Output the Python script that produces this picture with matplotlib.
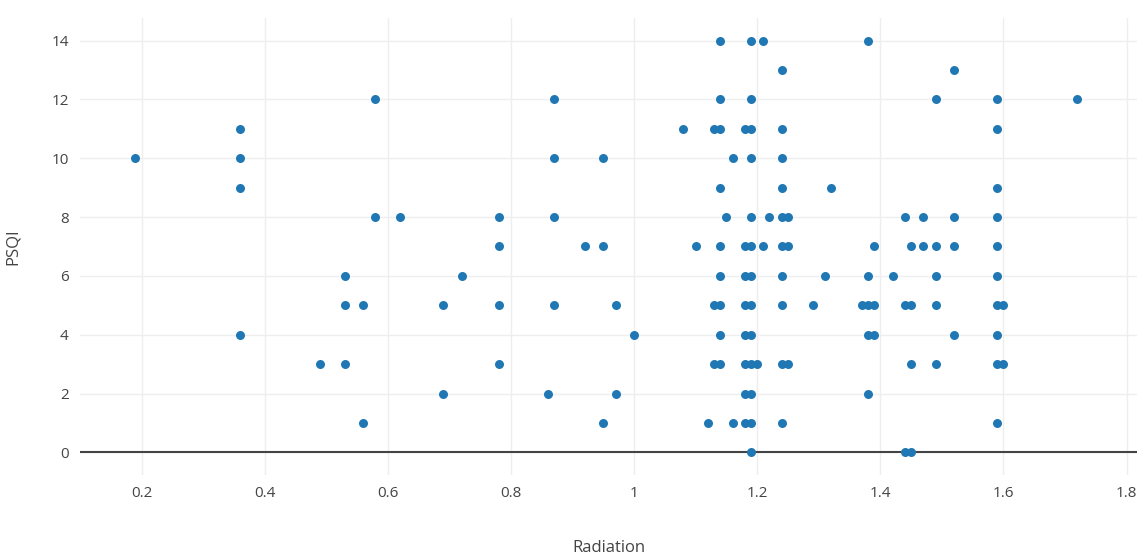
import matplotlib.pyplot as plt
import numpy as np

radiation = [0.19,
             0.36, 0.36, 0.36, 0.36,
             0.49,
             0.53, 0.53, 0.53,
             0.56, 0.56,
             0.58, 0.58,
             0.62,
             0.69, 0.69,
             0.72,
             0.78, 0.78, 0.78, 0.78,
             0.86,
             0.87, 0.87, 0.87, 0.87,
             0.92,
             0.95, 0.95, 0.95,
             0.97, 0.97,
             1.00,
             1.08,
             1.10,
             1.12,
             1.13, 1.13, 1.13,
             1.14, 1.14, 1.14, 1.14, 1.14, 1.14, 1.14, 1.14, 1.14,
             1.15,
             1.16, 1.16,
             1.18, 1.18, 1.18, 1.18, 1.18, 1.18, 1.18, 1.18,
             1.19, 1.19, 1.19, 1.19, 1.19, 1.19, 1.19, 1.19, 1.19, 1.19, 1.19, 1.19, 1.19,
             1.20,
             1.21, 1.21,
             1.22,
             1.24, 1.24, 1.24, 1.24, 1.24, 1.24, 1.24, 1.24, 1.24, 1.24,
             1.25, 1.25, 1.25,
             1.29,
             1.31,
             1.32,
             1.37,
             1.38, 1.38, 1.38, 1.38, 1.38,
             1.39, 1.39, 1.39,
             1.42,
             1.44, 1.44, 1.44,
             1.45, 1.45, 1.45, 1.45,
             1.47, 1.47,
             1.49, 1.49, 1.49, 1.49, 1.49,
             1.52, 1.52, 1.52, 1.52,
             1.59, 1.59, 1.59, 1.59, 1.59, 1.59, 1.59, 1.59, 1.59, 1.59,
             1.60, 1.60,
             1.72]

psqi = [10,
        11, 10, 9, 4,
        3,
        6, 5, 3,
        5, 1,
        12, 8,
        8,
        5, 2,
        6,
        8, 7, 5, 3,
        2,
        12, 10, 8, 5,
        7,
        10, 7, 1,
        5, 2,
        4,
        11,
        7,
        1,
        11, 5, 3,
        14, 12, 11, 9, 7, 6, 5, 4, 3,
        8,
        10, 1,
        11, 7, 6, 5, 4, 3, 2, 1,
        14, 12, 11, 10, 8, 7, 6, 5, 4, 3, 2, 1, 0,
        3,
        14, 7,
        8,
        13, 11, 10, 9, 8, 7, 6, 5, 3, 1,
        8, 7, 3,
        5,
        6,
        9,
        5,
        14, 6, 5, 4, 2,
        7, 5, 4,
        6,
        8, 5, 0,
        7, 5, 3, 0,
        8, 7,
        12, 7, 6, 5, 3,
        13, 8, 7, 4,
        12, 11, 9, 8, 7, 6, 5, 4, 3, 1,
        5, 3,
        12]

x_ticks = [0.2, 0.4, 0.6, 0.8, 1.0, 1.2, 1.4, 1.6, 1.8]
x_labels = ['0.2', '0.4', '0.6', '0.8', '1', '1.2', '1.4', '1.6', '1.8']
y_ticks = [0, 2, 4, 6, 8, 10, 12, 14]

plt.rcParams['font.family'] = ['Open Sans', 'DejaVu Sans']

fig = plt.figure(figsize=(11.44, 5.56), dpi=100)
ax = fig.add_axes([0.0699, 0.1457, 0.924, 0.822])

ax.scatter(radiation, psqi, s=42, color='#1f77b4', linewidths=0, zorder=3)

ax.set_xlim(0.1, 1.817)
ax.set_ylim(-0.77, 14.77)
ax.set_xticks(x_ticks)
ax.set_xticklabels(x_labels)
ax.set_yticks(y_ticks)

ax.grid(True, color='#eeeeee', linewidth=1)
ax.set_axisbelow(True)
ax.axhline(0, color='#444444', linewidth=1.5, zorder=2)

for s in ax.spines.values():
    s.set_visible(False)
ax.tick_params(length=0, labelsize=11, labelcolor='#444444', pad=8)

ax.set_xlabel('Radiation', fontsize=12, color='#444444', labelpad=28)
ax.set_ylabel('PSQI', fontsize=12, color='#444444', labelpad=22)

plt.savefig('out.png')
